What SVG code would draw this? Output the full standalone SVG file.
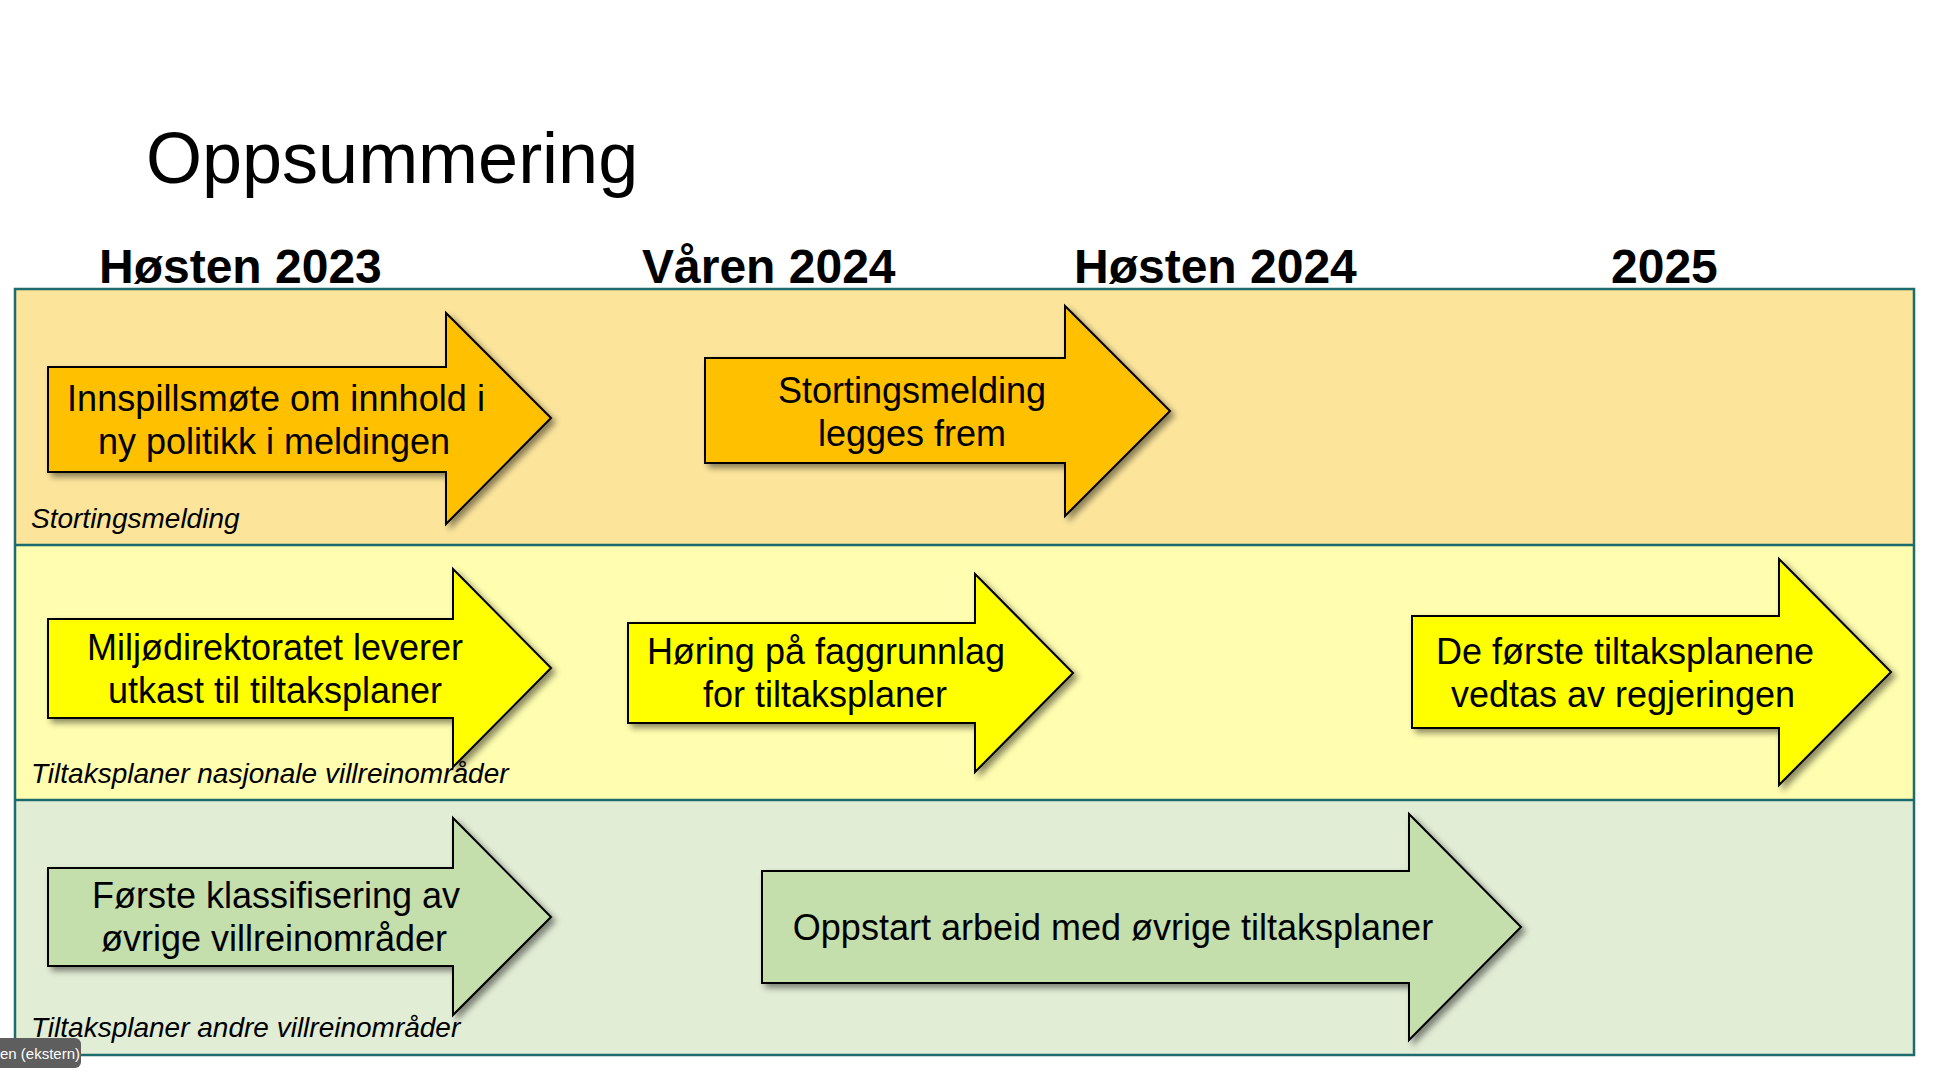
<svg xmlns="http://www.w3.org/2000/svg" width="1936" height="1077" viewBox="0 0 1936 1077">
  <style>
    .title { font-family: "Liberation Sans", Arial, sans-serif; font-size: 72px; fill: #000; }
    .hdr { font-family: "Liberation Sans", Arial, sans-serif; font-size: 48px; font-weight: bold; fill: #000; }
    .lane { font-family: "Liberation Sans", Arial, sans-serif; font-size: 28px; font-style: italic; fill: #000; }
    .atx { font-family: "Liberation Sans", Arial, sans-serif; font-size: 36px; fill: #000; text-anchor: middle; }
    .arr { stroke: #000; stroke-width: 2; stroke-linejoin: miter; filter: url(#shadow); }
    .orange { fill: #FFC000; }
    .yellow { fill: #FFFF00; }
    .green { fill: #C4DEAC; }
    .rowline { stroke: #1E6B6E; stroke-width: 2.5; fill: none; }
  </style>
  <defs>
    <filter id="shadow" x="-10%" y="-10%" width="130%" height="130%">
      <feDropShadow dx="4" dy="4" stdDeviation="3" flood-color="#000" flood-opacity="0.45"/>
    </filter>
  </defs>

  <rect width="1936" height="1077" fill="#FFFFFF"/>

  <text class="title" x="146" y="183">Oppsummering</text>

  <g id="headers">
    <text class="hdr" x="99" y="283">Høsten 2023</text>
    <text class="hdr" x="642" y="283">Våren 2024</text>
    <text class="hdr" x="1074" y="283">Høsten 2024</text>
    <text class="hdr" x="1611" y="283">2025</text>
  </g>

  <g id="lanes">
    <rect id="lane-stortingsmelding" x="15" y="289" width="1899" height="256" fill="#FCE59B"/>
    <rect id="lane-nasjonale" x="15" y="545" width="1899" height="255" fill="#FFFDAF"/>
    <rect id="lane-andre" x="15" y="800" width="1899" height="255" fill="#E2EDD6"/>
    <rect class="rowline" x="15" y="289" width="1899" height="766"/>
    <line class="rowline" x1="15" y1="545" x2="1914" y2="545"/>
    <line class="rowline" x1="15" y1="800" x2="1914" y2="800"/>
  </g>

  <g id="connectors"></g>

  <g id="node-innspillsmote">
    <polygon class="arr orange" points="48,367 446,367 446,313 551,418 446,524 446,472 48,472"/>
    <text class="atx" x="276" y="411" textLength="418" lengthAdjust="spacing">Innspillsmøte om innhold i</text>
    <text class="atx" x="274" y="454">ny politikk i meldingen</text>
  </g>

  <g id="node-stortingsmelding">
    <polygon class="arr orange" points="705,358 1065,358 1065,306 1170,411 1065,516 1065,463 705,463"/>
    <text class="atx" x="912" y="403">Stortingsmelding</text>
    <text class="atx" x="912" y="446">legges frem</text>
  </g>

  <g id="node-miljodirektoratet">
    <polygon class="arr yellow" points="48,619 453,619 453,569 551,668 453,767 453,718 48,718"/>
    <text class="atx" x="275" y="660">Miljødirektoratet leverer</text>
    <text class="atx" x="275" y="703">utkast til tiltaksplaner</text>
  </g>

  <g id="node-horing">
    <polygon class="arr yellow" points="628,623 975,623 975,574 1073,673 975,772 975,723 628,723"/>
    <text class="atx" x="826" y="664">Høring på faggrunnlag</text>
    <text class="atx" x="825" y="707">for tiltaksplaner</text>
  </g>

  <g id="node-forste-tiltaksplanene">
    <polygon class="arr yellow" points="1412,616 1779,616 1779,559 1891,672 1779,785 1779,728 1412,728"/>
    <text class="atx" x="1625" y="664">De første tiltaksplanene</text>
    <text class="atx" x="1623" y="707">vedtas av regjeringen</text>
  </g>

  <g id="node-klassifisering">
    <polygon class="arr green" points="48,868 453,868 453,818 551,917 453,1015 453,966 48,966"/>
    <text class="atx" x="276" y="908">Første klassifisering av</text>
    <text class="atx" x="274" y="951">øvrige villreinområder</text>
  </g>

  <g id="node-oppstart">
    <polygon class="arr green" points="762,871 1409,871 1409,814 1521,927 1409,1040 1409,983 762,983"/>
    <text class="atx" x="1113" y="940">Oppstart arbeid med øvrige tiltaksplaner</text>
  </g>

  <g id="lane-labels">
    <text class="lane" x="31" y="528">Stortingsmelding</text>
    <text class="lane" x="31" y="783">Tiltaksplaner nasjonale villreinområder</text>
    <text class="lane" x="31" y="1037">Tiltaksplaner andre villreinområder</text>
  </g>

  <g id="badge">
    <rect x="-10" y="1038" width="91" height="30" rx="6" fill="#5E5E5E"/>
    <text x="0" y="1059" font-family="'Liberation Sans', Arial, sans-serif" font-size="15" fill="#FFFFFF">en (ekstern)</text>
  </g>
</svg>
